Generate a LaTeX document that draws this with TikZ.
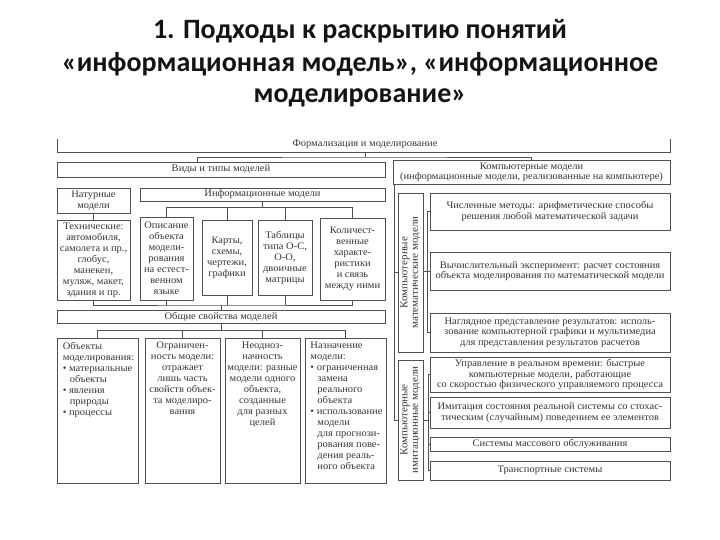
\documentclass[tikz,border=0pt]{standalone}
\usepackage{graphicx}
\usepackage{fontspec}
\setmainfont[FakeStretch=1.05]{Liberation Serif}
\newfontfamily\titlefont{Carlito}
\usetikzlibrary{positioning}
\definecolor{scan@line}{RGB}{80,80,80}
\definecolor{scan@text}{RGB}{55,55,55}
\definecolor{scan@title}{RGB}{20,20,20}
\tikzset{
  scheme/.style={
    x=1pt, y=-1pt,
    line width=0.9pt,
    every node/.style={font=\fontsize{10}{11}\selectfont, text=scan@text}
  },
  mbox/.style={                    % framed box of the scheme
    draw=scan@line, line width=0.9pt,
    fill=white,
    inner sep=1pt,
    align=center
  },
  rbox/.style={                    % box of the right column
    mbox,
    minimum width=240pt,
    font=\fontsize{10}{10.4}\selectfont
  },
  mtext/.style={inner sep=1pt, anchor=north},
  vlabel/.style={
    mbox,
    minimum width=25pt,
    font=\fontsize{10.5}{10.6}\selectfont
  },
  link/.style={draw=scan@line, line width=0.8pt},
  ttitle/.style={font=\titlefont\bfseries\fontsize{28}{32}\selectfont, text=scan@title}
}
\newcommand{\uptext}[2]{\rotatebox{90}{\begin{tabular}{@{}c@{}}#1\\#2\end{tabular}}}

\begin{document}
\begin{tikzpicture}[scheme]
\useasboundingbox (0,0) rectangle (720,540);

% title
\node[ttitle] (t1) at (360,31) {1. Подходы к раскрытию понятий};
\node[ttitle] (t2) at (360,64) {«информационная модель», «информационное};
\node[ttitle] (t3) at (360,98) {моделирование»};

% top bar
\node[inner sep=0pt] (formal) at (365,144) {Формализация и моделирование};
\draw[link] (57,139) |- (670,152) -- (670,139);
\coordinate (barmid) at (365,152);

% left part
\node[mbox, minimum width=328pt, minimum height=15pt] (vidy)   at (221,169.5) {Виды и типы моделей};
\node[mbox, minimum width=73pt,  minimum height=25pt] (natur)  at (93.5,200.5) {Натурные\\модели};
\node[mbox, minimum width=245pt, minimum height=13pt] (info)   at (262.5,194.5) {Информационные модели};

\node[mbox, minimum width=73pt, minimum height=80pt] (tech)   at (93.5,260)
  {Технические:\\автомобиля,\\самолета и пр.,\\глобус,\\манекен,\\муляж, макет,\\здания и пр.};
\node[mbox, minimum width=53pt, minimum height=83pt] (opis)   at (166.5,258.5)
  {Описание\\объекта\\модели-\\рования\\на естест-\\венном\\языке};
\node[mbox, minimum width=50pt, minimum height=75pt] (kart)   at (227,257.5)
  {Карты,\\схемы,\\чертежи,\\графики};
\node[mbox, minimum width=54pt, minimum height=75pt] (tabl)   at (285,257.5)
  {Таблицы\\типа О-С,\\О-О,\\двоичные\\матрицы};
\node[mbox, minimum width=65pt, minimum height=82pt] (kolich) at (352.5,259)
  {Количест-\\венные\\характе-\\ристики\\и связь\\между ними};

\node[mbox, minimum width=328pt, minimum height=13pt] (obs) at (221,316.5) {Общие свойства моделей};

\node[mbox, minimum width=81pt, minimum height=145pt] (obj)  at (97.5,410.5) {};
\node[mbox, minimum width=75pt, minimum height=145pt] (ogr)  at (182.5,410.5) {};
\node[mbox, minimum width=75pt, minimum height=145pt] (neod) at (262.5,410.5) {};
\node[mbox, minimum width=81pt, minimum height=145pt] (nazn) at (345.5,410.5) {};
\node[mtext, align=left]   at ([xshift=1pt,yshift=-3pt]obj.north)
  {Объекты\\моделирования:\\• материальные\\\hspace*{0.7em}объекты\\• явления\\\hspace*{0.7em}природы\\• процессы};
\node[mtext, align=center] at ([yshift=-3pt]ogr.north)
  {Ограничен-\\ность модели:\\отражает\\лишь часть\\свойств объек-\\та моделиро-\\вания};
\node[mtext, align=center] at ([yshift=-3pt]neod.north)
  {Неодноз-\\начность\\модели: разные\\модели одного\\объекта,\\созданные\\для разных\\целей};
\node[mtext, align=left]   at ([xshift=1pt,yshift=-3pt]nazn.north)
  {Назначение\\модели:\\• ограниченная\\\hspace*{0.7em}замена\\\hspace*{0.7em}реального\\\hspace*{0.7em}объекта\\• использование\\\hspace*{0.7em}модели\\\hspace*{0.7em}для прогнози-\\\hspace*{0.7em}рования пове-\\\hspace*{0.7em}дения реаль-\\\hspace*{0.7em}ного объекта};

% right part
\node[mbox, minimum width=277pt, minimum height=24pt, font=\fontsize{10}{10.4}\selectfont] (comp) at (531.5,172)
  {Компьютерные модели\\(информационные модели, реализованные на компьютере)};

\node[vlabel, minimum height=159pt] (mlab) at (410.5,272.5) {\uptext{Компьютерные}{математические модели}};
\node[vlabel, minimum height=120pt] (ilab) at (410.5,420)   {\uptext{Компьютерные}{имитационные модели}};

\node[rbox, minimum height=37pt] (num)   at (550,211.5)
  {Численные методы: арифметические способы\\решения любой математической задачи};
\node[rbox, minimum height=38pt] (vych)  at (550,271)
  {Вычислительный эксперимент: расчет состояния\\объекта моделирования по математической модели};
\node[rbox, minimum height=39pt] (nagl)  at (550,332.5)
  {Наглядное представление результатов: исполь-\\зование компьютерной графики и мультимедиа\\для представления результатов расчетов};
\node[rbox, minimum height=35pt] (upr)   at (550,374.5)
  {Управление в реальном времени: быстрые\\компьютерные модели, работающие\\со скоростью физического управляемого процесса};
\node[rbox, minimum height=31pt] (imit)  at (550,412.5)
  {Имитация состояния реальной системы со стохас-\\тическим (случайным) поведением ее элементов};
\node[rbox, minimum height=14pt] (smo)   at (550,444)
  {Системы массового обслуживания};
\node[rbox, minimum height=19pt] (trans) at (550,470.5)
  {Транспортные системы};

% connectors, left
\coordinate (fork) at (365,157);
\coordinate (vtick) at (197,162);
\draw[link] (barmid) -- (fork);
\draw[link] (vtick) |- (fork) -| (comp.north);
\draw[link] (natur) -- (tech);
\draw[link] (info.south) -- ++(0,6) coordinate (ibus);
\draw[link] (opis.north) |- (ibus) -| (kolich.north);
\draw[link] (kart.north) -- (kart.north |- ibus);
\draw[link] (tabl.north) -- (tabl.north |- ibus);
\coordinate (obus) at (221,305);
\draw[link] (tech.south) |- (obus) -| (kolich.south);
\draw[link] (opis.south) -- (opis.south |- obus);
\draw[link] (kart.south) -- (kart.south |- obus);
\draw[link] (tabl.south) -- (tabl.south |- obus);
\draw[link] (obus) -- (obs.north);
\draw[link] (obs.south) -- ++(0,7) coordinate (pbus);
\draw[link] (obj.north) |- (pbus) -| (nazn.north);
\draw[link] (ogr.north) -- (ogr.north |- pbus);
\draw[link] (neod.north) -- (neod.north |- pbus);

% connectors, right
\coordinate (cstem) at ([xshift=2pt]comp.south west);
\draw[link] (cstem) |- (ilab.west);
\draw[link] (cstem |- mlab.west) -- (mlab.west);
\coordinate (mbr) at ([xshift=4pt]mlab.east);
\draw[link] (num.west) -- (num.west -| mbr) -- (nagl.west -| mbr) -- (nagl.west);
\draw[link] (vych.west) -- (vych.west -| mlab.east);
\coordinate (ibr) at ([xshift=5pt]ilab.east);
\draw[link] (upr.west) -- (upr.west -| ibr) -- (trans.west -| ibr) -- (trans.west);
\draw[link] (imit.west) -- (imit.west -| ibr);
\draw[link] (smo.west) -- (smo.west -| ibr);
\draw[link] (ilab.east) -- (ilab.east -| ibr);
\end{tikzpicture}
\end{document}
